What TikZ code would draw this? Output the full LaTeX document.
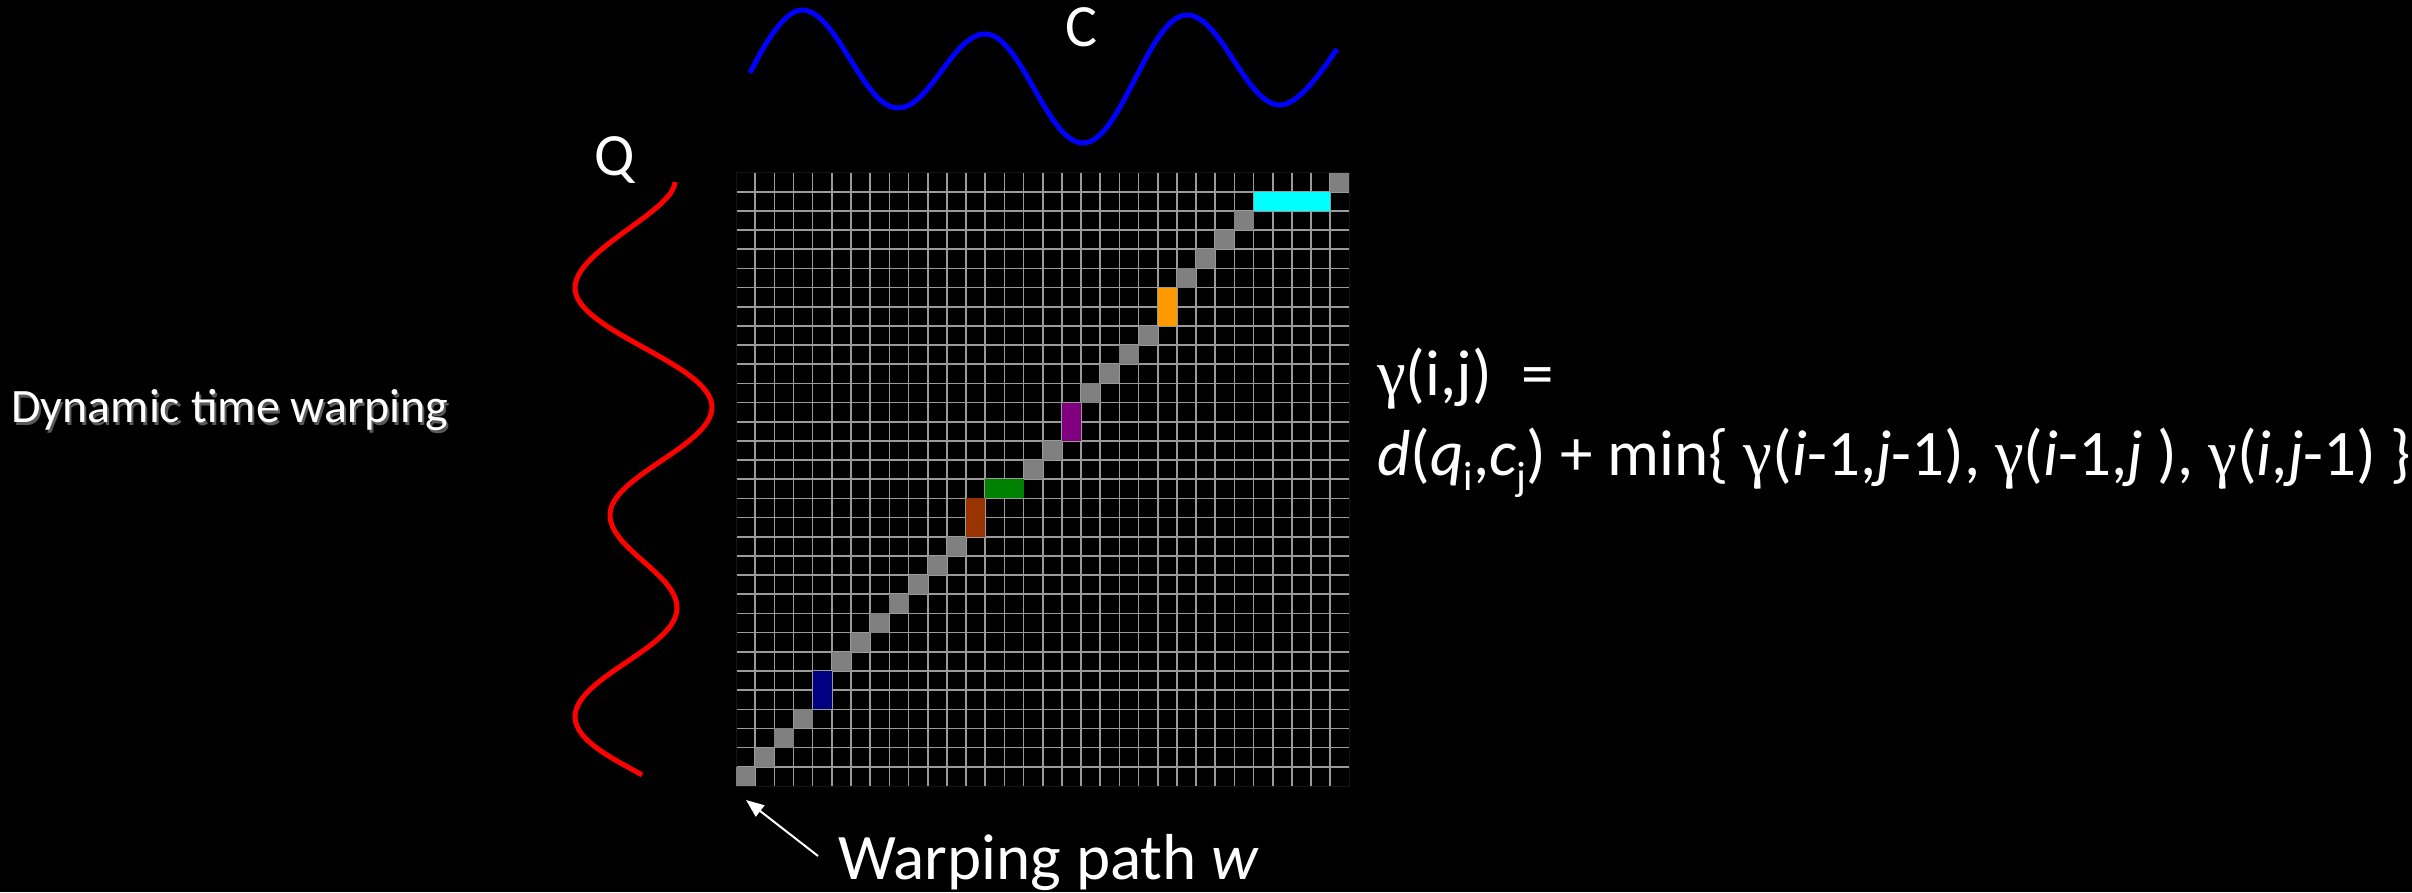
\documentclass[tikz,border=0pt]{standalone}
\usepackage{fontspec}
\setmainfont{Carlito}
\newfontfamily\gfont{Liberation Serif}
\usetikzlibrary{arrows.meta}
\definecolor{pathgray}{HTML}{808080}
\definecolor{gridline}{HTML}{9A9A9A}
\definecolor{gridedgec}{HTML}{151515}
\definecolor{cnavy}{HTML}{000080}
\definecolor{cbrown}{HTML}{993300}
\definecolor{cgreen}{HTML}{008000}
\definecolor{cpurple}{HTML}{800080}
\definecolor{corange}{HTML}{FF9900}
\definecolor{ccyan}{HTML}{00FFFF}
\definecolor{cblue}{HTML}{0000FF}
\definecolor{cred}{HTML}{FF0000}
\definecolor{shadowgray}{HTML}{5A5A5A}
\newcommand\mysub[1]{\raisebox{-0.22em}{\fontsize{41}{41}\selectfont #1}}
\newcommand\gam{{\gfont γ}}
\begin{document}
\begin{tikzpicture}[x=1pt,y=1pt,
  gridln/.style={draw=gridline, line width=1.6pt},
  gridborder/.style={draw=gridedgec, line width=1pt},
  pathcell/.style={fill=pathgray},
  series/.style={line width=5pt, line join=round},
  lbl/.style={text=white, inner sep=0pt, anchor=base west, font=\fontsize{60}{72}\selectfont},
  formula/.style={text=white, inner sep=0pt, anchor=base west, font=\fontsize{65}{78}\selectfont},
  titlelbl/.style={inner sep=0pt, anchor=base west, font=\fontsize{48}{56}\selectfont},
  pointer/.style={draw=white, line width=2pt, -{Triangle[length=18pt,width=14pt]}}]
\useasboundingbox (0,0) rectangle (2412,892);
\fill[black] (0,0) rectangle (2412,892);

% cost matrix grid
\begin{scope}[shift={(736pt,106pt)}, x=19.17pt, y=19.17pt]
  \foreach \k in {1,...,31} {
    \draw[gridln] (\k,0) -- (\k,32);
    \draw[gridln] (0,\k) -- (32,\k);
  }
  \draw[gridborder] (0,0) rectangle (32,32);
  \foreach \c/\r in {0/0,1/1,2/2,3/3,5/6,6/7,7/8,8/9,9/10,10/11,11/12,15/16,16/17,18/20,19/21,20/22,21/23,23/26,24/27,25/28,26/29,31/31}
    \fill[pathcell] (\c,\r) rectangle ++(1,1);
  \fill[cnavy] (4,4) rectangle (5,6);
  \fill[cbrown] (12,13) rectangle (13,15);
  \fill[cgreen] (13,15) rectangle (15,16);
  \fill[cpurple] (17,18) rectangle (18,20);
  \fill[corange] (22,24) rectangle (23,26);
  \fill[ccyan] (27,30) rectangle (31,31);
\end{scope}

% series C
\draw[series, draw=cblue] (750,819) .. controls (759,837) and (782,882) .. (802,882)
  .. controls (837,882) and (863,784) .. (898,784)
  .. controls (930,784) and (953,858) .. (985,858)
  .. controls (1021,858) and (1047,749) .. (1083,749)
  .. controls (1121,749) and (1149,877) .. (1187,877)
  .. controls (1221,877) and (1246,787) .. (1280,787)
  .. controls (1300,787) and (1325.5,826.6) .. (1337,843);

% series Q
\draw[series, draw=cred] (675,710) .. controls (673,680) and (575,642) .. (575,604)
  .. controls (575,561) and (712,528) .. (712,485)
  .. controls (712,446) and (610,416) .. (610,377)
  .. controls (610,343) and (677,318) .. (677,284)
  .. controls (677,244) and (575,215) .. (575,175)
  .. controls (575,150) and (620,130) .. (642,117);

% labels
\node[titlelbl, text=shadowgray] (titleshadow) at (13,466) {Dynamic time warping};
\node[titlelbl, text=white] (title) at (11,469) {Dynamic time warping};
\node[lbl] (qlabel) at (594,716) {Q};
\node[lbl] (clabel) at (1065,845) {C};
\node[formula] (gammaA) at (1377,496) {\gam(i,j)\ \ =};
\node[formula] (gammaB) at (1377,416) {\textit{d}(\textit{q}\mysub{i},\textit{c}\mysub{j}) + min\{ \gam(\textit{i}-1,\textit{j}-1), \gam(\textit{i}-1,\textit{j} ), \gam(\textit{i},\textit{j}-1) \}};
\node[lbl, font=\fontsize{65}{78}\selectfont] (wlabel) at (838,13) {Warping path \textit{w}};

% pointer
\coordinate (arrtail) at (818,36);
\coordinate (arrtip) at (746,92);
\draw[pointer] (arrtail) -- (arrtip);
\end{tikzpicture}
\end{document}
